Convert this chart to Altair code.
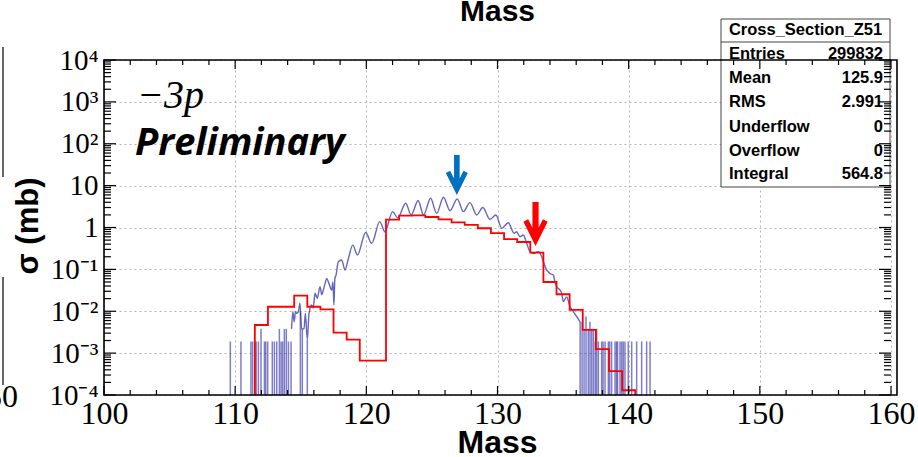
import json
import altair as alt
import pandas as pd

# ---------------- data ----------------
# red histogram: bin centres (width 1) and contents (mb)
red_bin_center = [112, 113, 114, 115, 116, 117, 118, 119, 120, 121,
                  122, 123, 124, 125, 126, 127, 128, 129, 130, 131,
                  132, 133, 134, 135, 136, 137, 138, 139, 140]
red_sigma = [0.0047, 0.0128, 0.0128, 0.0235, 0.0128, 0.0111, 0.0031, 0.0021, 0.00066, 0.00066,
             1.55, 1.92, 1.95, 1.78, 1.57, 1.32, 1.15, 0.96, 0.73, 0.53,
             0.45, 0.25, 0.05, 0.0255, 0.0108, 0.0036, 0.00125, 0.00037, 0.00013]

# blue fine-binned histogram, continuous part (mass, mb)
blue_mass = [114.3, 114.4, 114.5, 114.6, 114.7, 114.82, 114.94, 115.07, 115.25, 115.35,
             115.5, 115.63, 115.83, 115.95, 116.09, 116.26, 116.47, 116.6, 116.72, 116.85,
             116.98, 117.15, 117.36, 117.45, 117.53, 117.6, 117.69, 117.86, 118.12, 118.37,
             118.63, 118.96, 119.32, 119.95, 120.41, 121.02, 121.42, 122.0, 122.4, 123.0,
             123.42, 123.95, 124.36, 124.9, 125.36, 125.88, 126.38, 126.93, 127.4, 127.9,
             128.41, 128.88, 129.43, 129.88, 130.32, 130.83, 131.26, 131.46, 131.71, 131.97,
             132.22, 132.48, 132.73, 133.1, 133.37, 133.5, 133.75, 134.0, 134.26, 134.38,
             134.5, 134.77, 134.89, 135.02, 135.27, 135.53, 135.78, 136.04, 136.3]
blue_sigma = [0.0038, 0.0098, 0.0056, 0.0098, 0.0089, 0.0098, 0.0155, 0.0038, 0.0038, 0.0089,
              0.0021, 0.0089, 0.0141, 0.012, 0.0268, 0.0204, 0.0386, 0.025, 0.0321, 0.045,
              0.061, 0.046, 0.032, 0.05, 0.0141, 0.06, 0.073, 0.153, 0.168, 0.097,
              0.18, 0.38, 0.22, 0.76, 0.42, 1.38, 0.79, 2.39, 1.7, 3.78,
              2.0, 4.4, 1.99, 4.98, 2.18, 5.26, 2.52, 4.8, 2.39, 3.92,
              1.99, 3.0, 1.57, 1.99, 0.955, 1.30, 0.73, 0.79, 0.60, 0.66,
              0.42, 0.265, 0.24, 0.265, 0.2, 0.153, 0.097, 0.08, 0.073, 0.051,
              0.039, 0.032, 0.027, 0.017, 0.022, 0.0128, 0.0098, 0.0074, 0.0056]

# blue single bins in the tails (spikes from the floor)
left_spike_mass = [109.63, 110.44, 111.2, 111.33, 111.5, 111.6, 111.77, 111.97, 112.23, 112.33,
                   112.48, 112.83, 112.99, 113.17, 113.37, 113.5, 113.62, 113.75, 113.9, 114.06,
                   114.26, 114.97, 115.12, 115.5]
left_spike_sigma = [0.0019, 0.0019, 0.0019, 0.0019, 0.0019, 0.0019, 0.0019, 0.0038, 0.0019, 0.0019,
                    0.0019, 0.0019, 0.0019, 0.0019, 0.0038, 0.0019, 0.0019, 0.0038, 0.0038, 0.0019,
                    0.0019, 0.0098, 0.0038, 0.0021]
right_spike_mass = [136.3, 136.45, 136.6, 136.75, 136.92, 137.05, 137.18, 137.31, 137.45, 137.56,
                    137.69, 137.94, 138.05, 138.2, 138.45, 138.55, 138.7, 138.96, 139.08, 139.15,
                    139.34, 139.47, 139.59, 139.72, 139.97, 140.23, 140.61, 140.99, 141.37, 141.63]
right_spike_sigma = [0.0056, 0.0056, 0.0038, 0.0075, 0.0038, 0.0056, 0.0038, 0.0038, 0.0019, 0.0038,
                     0.0019, 0.0019, 0.0019, 0.0019, 0.0019, 0.0019, 0.0019, 0.0019, 0.0019, 0.0019,
                     0.0019, 0.0019, 0.0019, 0.0019, 0.0019, 0.0019, 0.0019, 0.0019, 0.0019, 0.0019]

# arrows (mass, sigma at arrow centre)
blue_arrow_mass = [126.9]
blue_arrow_sigma = [18.0]
red_arrow_mass = [132.9]
red_arrow_sigma = [1.22]

x_tick_values = [100, 110, 120, 130, 140, 150, 160]
y_tick_values = [1e-4, 1e-3, 1e-2, 1e-1, 1, 10, 100, 1e3, 1e4]
y_tick_labels = ["10⁻⁴", "10⁻³", "10⁻²", "10⁻¹", "1", "10", "10²", "10³", "10⁴"]

stats_title = "Cross_Section_Z51"
stats_names = ["Entries", "Mean", "RMS", "Underflow", "Overflow", "Integral"]
stats_values = ["299832", "125.9", "2.991", "0", "0", "564.8"]

# ---------------- layout ----------------
W, H = 787, 335
X_MIN, X_MAX = 100, 160
Y_MIN, Y_MAX = 1e-4, 1e4

xs = alt.Scale(domain=[X_MIN, X_MAX], nice=False, zero=False)
ys = alt.Scale(type="log", domain=[Y_MIN, Y_MAX], nice=False, clamp=True)

# red step data (step-after through left bin edges)
red_rows = [{"i": 0, "mass": red_bin_center[0] - 0.5, "sigma": Y_MIN}]
for k, (c, v) in enumerate(zip(red_bin_center, red_sigma)):
    red_rows.append({"i": k + 1, "mass": c - 0.5, "sigma": v})
red_rows.append({"i": len(red_rows), "mass": red_bin_center[-1] + 0.5, "sigma": Y_MIN})
red_df = pd.DataFrame(red_rows)

blue_df = pd.DataFrame({"i": list(range(len(blue_mass))), "mass": blue_mass, "sigma": blue_sigma})
spike_df = pd.DataFrame({
    "mass": left_spike_mass + right_spike_mass,
    "sigma": left_spike_sigma + right_spike_sigma,
})
spike_df["floor"] = Y_MIN

label_expr = json.dumps(y_tick_labels, ensure_ascii=False) + "[round(log(datum.value)/LN10) + 4]"

x_main_axis = alt.Axis(orient="bottom", values=x_tick_values, format="d",
                       labelFont="Liberation Serif", labelFontSize=32, labelColor="black",
                       labelPadding=3, labelFlush=False, labelOverlap=False,
                       ticks=False, tickSize=0, domain=False,
                       grid=True, gridColor="#b4b4b4", gridDash=[2, 3], gridWidth=1,
                       title=None)
y_main_axis = alt.Axis(orient="left", values=y_tick_values, labelExpr=label_expr,
                       labelFont="Liberation Serif", labelFontSize=29, labelColor="black",
                       labelPadding=6, labelFlush=False, labelOverlap=False,
                       ticks=False, tickSize=0, domain=False,
                       grid=True, gridColor="#b4b4b4", gridDash=[2, 3], gridWidth=1,
                       title=None)

BLUE = "#2a2aa5"

spikes = alt.Chart(spike_df).mark_rule(color=BLUE, strokeWidth=1.5, opacity=0.6).encode(
    x=alt.X("mass:Q", scale=xs, axis=None),
    y=alt.Y("sigma:Q", scale=ys, axis=None),
    y2="floor:Q",
)

blue_line = alt.Chart(blue_df).mark_line(interpolate="monotone", color=BLUE,
                                         strokeWidth=1.4, opacity=0.72).encode(
    x=alt.X("mass:Q", scale=xs, axis=None),
    y=alt.Y("sigma:Q", scale=ys, axis=None),
    order="i:Q",
)

red_line = alt.Chart(red_df).mark_line(interpolate="step-after", color="#ff0000",
                                       strokeWidth=1.8).encode(
    x=alt.X("mass:Q", scale=xs, axis=x_main_axis),
    y=alt.Y("sigma:Q", scale=ys, axis=y_main_axis),
    order="i:Q",
)

ARROW = ("M -0.14 -1 L 0.14 -1 L 0.14 0.18 L 0.335 -0.21 L 0.55 -0.1 L 0 1 "
         "L -0.55 -0.1 L -0.335 -0.21 L -0.14 0.18 Z")

blue_arrow = alt.Chart(pd.DataFrame({"mass": blue_arrow_mass, "sigma": blue_arrow_sigma})).mark_point(
    shape=ARROW, filled=True, size=1600, color="#0070c0", opacity=1, strokeWidth=0).encode(
    x=alt.X("mass:Q", scale=xs, axis=None), y=alt.Y("sigma:Q", scale=ys, axis=None))
red_arrow = alt.Chart(pd.DataFrame({"mass": red_arrow_mass, "sigma": red_arrow_sigma})).mark_point(
    shape=ARROW, filled=True, size=1936, color="#ff0000", opacity=1, strokeWidth=0).encode(
    x=alt.X("mass:Q", scale=xs, axis=None), y=alt.Y("sigma:Q", scale=ys, axis=None))

one = pd.DataFrame({"k": [0]})


def text(t, x, y, **kw):
    return alt.Chart(one).mark_text(text=t, **kw).encode(x=alt.value(x), y=alt.value(y))


texts = [
    text("−3p", 33, 48, font="Liberation Serif", fontSize=40, fontStyle="italic",
         align="left", baseline="alphabetic", color="black"),
    text("Preliminary", 31, 95, font="Open Sans", fontSize=38, fontStyle="italic",
         fontWeight="bold", align="left", baseline="alphabetic", color="black"),
    text("Mass", W / 2, -39, font="Liberation Sans", fontSize=30, fontWeight="bold",
         align="center", baseline="alphabetic", color="black"),
    text("Mass", W / 2, 393, font="Liberation Sans", fontSize=32, fontWeight="bold",
         align="center", baseline="alphabetic", color="black"),
    text("σ (mb)", -75, 166, font="Liberation Sans", fontSize=31, fontWeight="bold",
         align="center", baseline="middle", angle=270, color="black"),
    text("50", -86, 347, font="Liberation Serif", fontSize=32, align="right",
         baseline="alphabetic", color="black"),
]

artifacts = [
    alt.Chart(one).mark_rule(color="#666666", strokeWidth=2).encode(
        x=alt.value(-101), y=alt.value(-13), y2=alt.value(117)),
    alt.Chart(one).mark_rule(color="#666666", strokeWidth=2).encode(
        x=alt.value(-101), y=alt.value(217), y2=alt.value(325)),
]

# stats box
BX0, BX1, BY0, BY1 = 617, 786, -41, 127
stats = [
    alt.Chart(one).mark_rect(fill="white", stroke="#444444", strokeWidth=1).encode(
        x=alt.value(BX0), x2=alt.value(BX1), y=alt.value(BY0), y2=alt.value(BY1)),
    alt.Chart(one).mark_rule(color="#444444", strokeWidth=1).encode(
        x=alt.value(BX0), x2=alt.value(BX1), y=alt.value(-18)),
    text(stats_title, (BX0 + BX1) / 2, -25, font="Liberation Sans", fontSize=16.5,
         fontWeight="bold", align="center", baseline="alphabetic", color="black"),
]
row_base = [-1, 23, 47, 72, 96, 119]
for name, val, yb in zip(stats_names, stats_values, row_base):
    stats.append(text(name, 625, yb, font="Liberation Sans", fontSize=16.5, fontWeight="bold",
                      align="left", baseline="alphabetic", color="black"))
    stats.append(text(val, 779, yb, font="Liberation Sans", fontSize=16.5, fontWeight="bold",
                      align="right", baseline="alphabetic", color="black"))

frame = alt.Chart(one).mark_rect(fillOpacity=0, stroke="black", strokeWidth=1.6).encode(
    x=alt.value(0), x2=alt.value(W + 6), y=alt.value(0), y2=alt.value(H))

# inward ticks on all four sides
x_minor = [v for v in range(102, 160, 2) if v % 10 != 0]
y_minor = [k * 10.0 ** e for e in range(-4, 4) for k in range(2, 10)]


def xticks(values, length, at_top):
    return alt.Chart(pd.DataFrame({"t": values})).mark_tick(
        orient="vertical", size=length, thickness=1.2, color="black", opacity=1).encode(
        x=alt.X("t:Q", scale=xs, axis=None),
        y=alt.value(length / 2 if at_top else H - length / 2))


def yticks(values, length, at_right):
    return alt.Chart(pd.DataFrame({"t": values})).mark_tick(
        orient="horizontal", size=length, thickness=1.2, color="black", opacity=1).encode(
        y=alt.Y("t:Q", scale=ys, axis=None),
        x=alt.value(W - length / 2 if at_right else length / 2))


ticks = [
    xticks(x_tick_values, 9, False), xticks(x_minor, 5, False),
    xticks(x_tick_values, 9, True), xticks(x_minor, 5, True),
    yticks(y_tick_values, 12, False), yticks(y_minor, 7, False),
    yticks(y_tick_values, 12, True), yticks(y_minor, 7, True),
]

chart = alt.layer(
    spikes, blue_line, red_line, blue_arrow, red_arrow,
    *artifacts, *texts, *stats, frame, *ticks
).resolve_axis(x="independent", y="independent").properties(
    width=W, height=H,
    padding={"left": 104, "top": 60, "right": 27, "bottom": 62},
    autosize=alt.AutoSizeParams(type="none"),
    background="white",
).configure_view(strokeWidth=0)

chart.save("out.html", embed_options={"renderer": "svg", "actions": False})
